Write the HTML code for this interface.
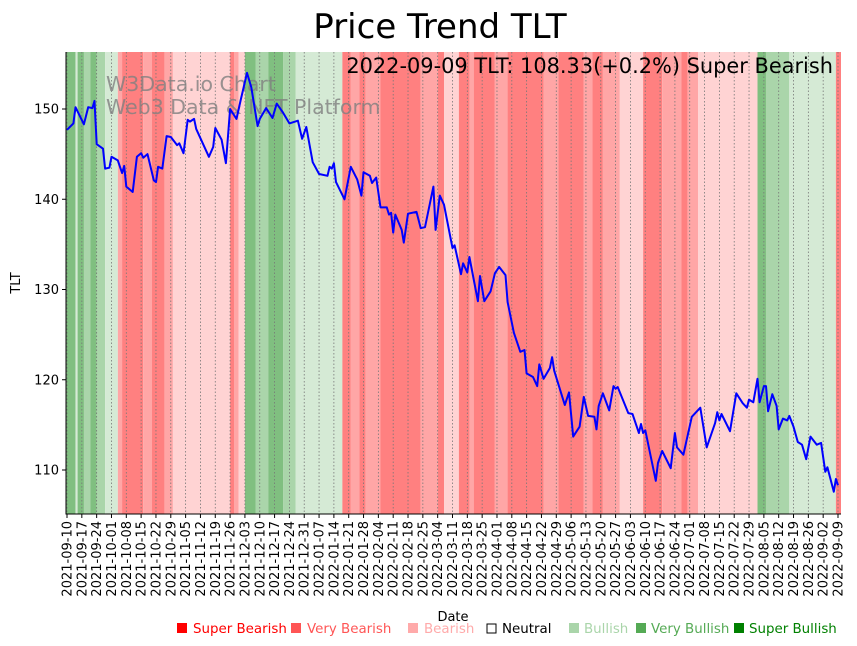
<!DOCTYPE html>
<html><head><meta charset="utf-8"><style>
body{margin:0;background:#fff;width:857px;height:646px;overflow:hidden;font-family:"DejaVu Sans","Liberation Sans",sans-serif}
svg{position:absolute;left:0;top:0}
text{font-family:"DejaVu Sans","Liberation Sans",sans-serif}
</style></head><body>
<svg id="chart" width="857" height="646">
<text x="440" y="38" font-size="34" text-anchor="middle">Price Trend TLT</text>
<g id="bands"></g>
<g id="grid"></g>
<text x="106" y="91" font-size="20.5" fill="#808080" fill-opacity="0.8">W3Data.io Chart</text>
<text x="106" y="114" font-size="20.5" fill="#808080" fill-opacity="0.8">Web3 Data &amp; NFT Platform</text>
<path id="line" fill="none" stroke="#0000ff" stroke-width="2" stroke-linejoin="round"/>
<text x="833" y="73" font-size="20.9" text-anchor="end">2022-09-09 TLT: 108.33(+0.2%) Super Bearish</text>
<g id="axes"></g>
<text x="453" y="621" font-size="13" text-anchor="middle">Date</text>
<text transform="translate(20,283) rotate(-90)" font-size="13" text-anchor="middle">TLT</text>
<g font-size="13.4">
<g><rect x="177" y="623" width="10" height="10" fill="#ff0000"/><text x="193" y="633" fill="#ff0000">Super Bearish</text></g>
<g><rect x="291" y="623" width="10" height="10" fill="#ff5555"/><text x="307" y="633" fill="#ff5555">Very Bearish</text></g>
<g><rect x="408" y="623" width="10" height="10" fill="#ffaaaa"/><text x="424" y="633" fill="#ffaaaa">Bearish</text></g>
<g><rect x="487" y="624" width="9" height="9" fill="none" stroke="#000"/><text x="502" y="633" fill="#000">Neutral</text></g>
<g><rect x="569" y="623" width="10" height="10" fill="#aad5aa"/><text x="584" y="633" fill="#aad5aa">Bullish</text></g>
<g><rect x="636" y="623" width="10" height="10" fill="#55aa55"/><text x="651" y="633" fill="#55aa55">Very Bullish</text></g>
<g><rect x="734" y="623" width="10" height="10" fill="#008000"/><text x="749" y="633" fill="#008000">Super Bullish</text></g>
</g>
</svg>
<script>
// data: days since 2021-09-10
const days=[0,3,4,8,10,12,13,14,17,18,20,21,24,26,27,28,31,33,35,36,38,41,42,43,45,47,49,52,53,55,57,58,60,61,67,69,70,73,75,77,80,82,83,85,87,90,91,94,97,99,102,105,109,111,113,116,119,123,124,125,126,127,131,134,137,139,140,143,144,146,148,151,152,153,154,155,158,159,161,165,167,169,173,174,176,178,182,183,186,187,189,190,194,195,197,200,202,204,207,208,211,214,216,217,220,222,223,225,228,229,230,232,235,237,239,242,244,246,249,250,251,253,256,258,259,260,265,267,270,271,272,273,278,279,281,285,287,288,291,295,299,302,306,307,308,309,313,316,319,321,322,324,326,327,329,330,331,333,335,336,338,340,341,343,345,347,349,351,354,356,358,359,362,363,364];
const prices=[147.7,148.4,150.2,148.3,150.2,150.1,150.9,146.1,145.6,143.4,143.5,144.7,144.3,142.9,143.7,141.4,140.8,144.7,145.1,144.6,145.0,142.1,141.9,143.6,143.4,147.0,146.9,146.0,146.2,145.1,148.8,148.6,148.9,147.8,144.7,145.8,147.9,146.6,144.0,150.0,148.9,151.0,152.0,154.0,152.4,148.1,148.9,150.1,149.0,150.6,149.6,148.4,148.7,146.7,148.0,144.1,142.8,142.6,143.6,143.4,144.0,141.9,140.0,143.6,142.2,140.4,143.0,142.6,141.8,142.4,139.1,139.1,138.3,138.5,136.3,138.3,136.6,135.2,138.4,138.6,136.8,136.9,141.4,136.6,140.4,139.4,134.6,134.9,131.7,132.9,131.9,133.6,128.7,131.5,128.7,129.8,131.8,132.5,131.6,128.6,125.2,123.1,123.3,120.7,120.3,119.3,121.7,120.1,121.3,122.5,121.0,119.5,117.2,118.6,113.7,114.8,118.1,116.0,115.9,114.5,117.1,118.5,116.6,119.3,119.0,119.2,116.3,116.2,114.1,115.1,114.1,114.4,108.8,110.8,112.1,110.2,114.1,112.5,111.7,115.9,116.9,112.5,115.2,116.4,115.5,116.2,114.3,118.5,117.4,116.9,117.8,117.5,120.1,117.5,119.3,119.3,116.5,118.4,117.1,114.5,115.7,115.5,116.0,114.8,113.1,112.8,111.2,113.7,112.8,113.0,109.8,110.3,107.6,109.0,108.3];
const bandStarts=[-1,4,5,8,11,14,18,24,26,36,40,46,50,77,79,81,84,89,95,102,108,130,134,138,141,148,167,175,178,185,190,192,202,208,225,232,244,248,253,261,272,281,290,293,298,326,330,341,363];
const bandLevels=[3,1,3,2,3,2,1,-2,-3,-2,-3,-2,-1,-3,-2,-1,3,2,3,2,1,-3,-2,-3,-2,-3,-2,-3,-1,-3,-2,-3,-2,-3,-2,-3,-2,-3,-2,-1,-3,-2,-3,-2,-1,3,2,1,-3];
const yTicks=[110,120,130,140,150];
const bandColors={"-3":"#ff8080","-2":"#ffa6a6","-1":"#ffd3d3","1":"#d5ead5","2":"#aad5aa","3":"#80bf80"};
const L=66,R=841,T=52,B=514;
const xs=d=>67+d*(771/364);
const ys=v=>109+(150-v)*9.025;
const NS="http://www.w3.org/2000/svg";
const bands=document.getElementById('bands');
for(let i=0;i<bandStarts.length;i++){
  const x0=Math.max(L,xs(bandStarts[i]));
  const x1=i+1<bandStarts.length?xs(bandStarts[i+1]):R;
  const r=document.createElementNS(NS,'rect');
  r.setAttribute('x',x0);r.setAttribute('y',T);r.setAttribute('width',Math.max(0,Math.min(R,x1)-x0));r.setAttribute('height',B-T);
  r.setAttribute('fill',bandColors[bandLevels[i]]);
  
  
  bands.appendChild(r);
}
const grid=document.getElementById('grid'),axes=document.getElementById('axes');
const start=new Date(Date.UTC(2021,8,10));
for(let k=0;k<=52;k++){
  const x=xs(k*7);
  const g=document.createElementNS(NS,'line');
  g.setAttribute('x1',x);g.setAttribute('x2',x);g.setAttribute('y1',T);g.setAttribute('y2',B);
  g.setAttribute('stroke','#777');g.setAttribute('stroke-width','0.8');g.setAttribute('stroke-dasharray','1.5,2');
  
  
  grid.appendChild(g);
  const t=document.createElementNS(NS,'line');
  t.setAttribute('x1',x);t.setAttribute('x2',x);t.setAttribute('y1',B);t.setAttribute('y2',B+4);t.setAttribute('stroke','#000');
  
  
  axes.appendChild(t);
  const dt=new Date(start.getTime()+k*7*86400000);
  const lab=dt.toISOString().slice(0,10);
  const tx=document.createElementNS(NS,'text');
  tx.setAttribute('transform',`translate(${x+4.5},${B+7}) rotate(-90)`);
  tx.setAttribute('font-size','13');tx.setAttribute('text-anchor','end');
  tx.textContent=lab;
  
  
  axes.appendChild(tx);
}
yTicks.forEach(v=>{
  const y=ys(v);
  const t=document.createElementNS(NS,'line');
  t.setAttribute('x1',L-4);t.setAttribute('x2',L);t.setAttribute('y1',y);t.setAttribute('y2',y);t.setAttribute('stroke','#000');
  
  
  axes.appendChild(t);
  const tx=document.createElementNS(NS,'text');
  tx.setAttribute('x',L-7);tx.setAttribute('y',y+4.5);tx.setAttribute('font-size','13');tx.setAttribute('text-anchor','end');
  tx.textContent=v;
  
  
  axes.appendChild(tx);
});
const ax=document.createElementNS(NS,'path');
ax.setAttribute('d',`M${L},${T}V${B}H${R}`);ax.setAttribute('stroke','#000');ax.setAttribute('fill','none');ax.setAttribute('stroke-width','1');


axes.appendChild(ax);
document.getElementById('line').setAttribute('d',days.map((d,i)=>(i?'L':'M')+xs(d).toFixed(1)+','+ys(prices[i]).toFixed(1)).join(''));
</script>
</body></html>
